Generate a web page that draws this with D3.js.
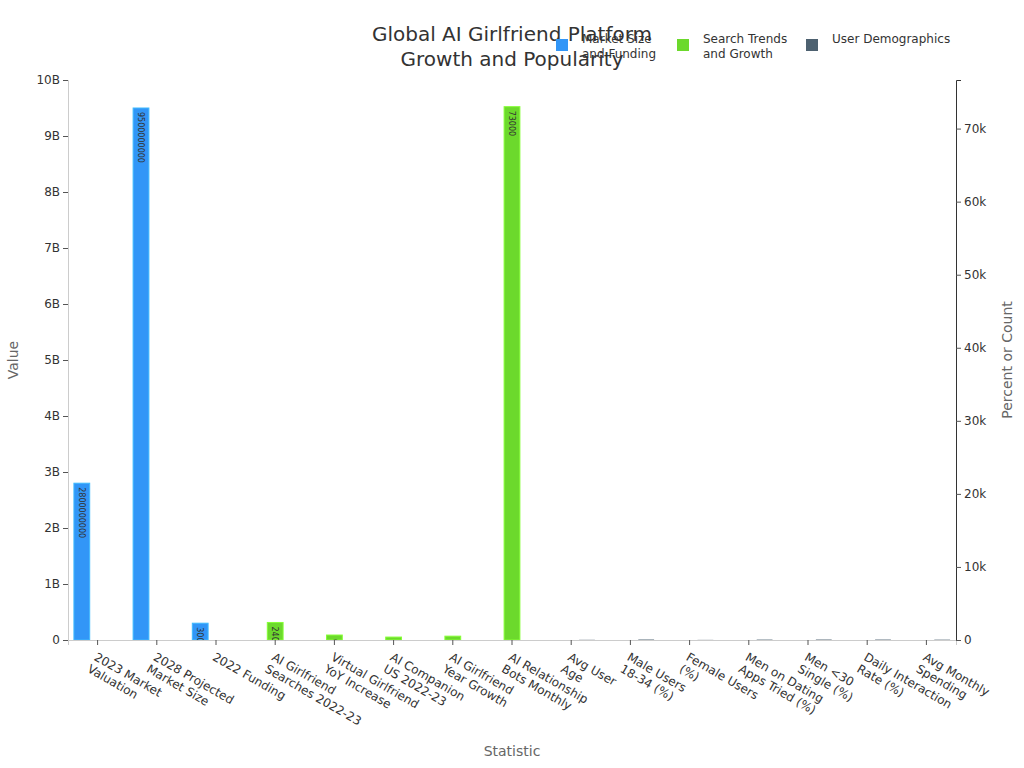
<!DOCTYPE html>
<html lang="en">
<head>
  <meta charset="UTF-8">
  <title>Global AI Girlfriend Platform Growth and Popularity</title>
  <script src="https://d3js.org/d3.v7.min.js"></script>
  <style>
    * { padding: 0; margin: 0; box-sizing: border-box; }
    body { background: #fff; }
    svg { display: block; font-family: "DejaVu Sans", sans-serif; }
  </style>
</head>
<body>
  <div id="container"></div>
  <script>
    // categories and which series each one belongs to
    const categories = [
      "2023 Market\nValuation", "2028 Projected\nMarket Size", "2022 Funding",
      "AI Girlfriend\nSearches 2022-23", "Virtual Girlfriend\nYoY Increase", "AI Companion\nUS 2022-23",
      "AI Girlfriend\nYear Growth", "AI Relationship\nBots Monthly",
      "Avg User\nAge", "Male Users\n18-34 (%)", "Female Users\n(%)", "Men on Dating\nApps Tried (%)",
      "Men <30\nSingle (%)", "Daily Interaction\nRate (%)", "Avg Monthly\nSpending"
    ];
    const seriesNames = ["Market Size\nand Funding", "Search Trends\nand Growth", "User Demographics"];
    const seriesColors = ["#3296f7", "#6cd92c", "#4d6170"];
    const seriesOf = [0, 0, 0, 1, 1, 1, 1, 1, 2, 2, 2, 2, 2, 2, 2];
    const values = [2800000000, 9500000000, 300000000, 2400, 680, 400, 525, 73000, 27, 65, 18, 55, 63, 60, 47];
    const leftTicks = d3.range(0, 11).map(d => d * 1e9);
    const rightTicks = d3.range(0, 8).map(d => d * 10000);

    const width = 1024, height = 768;
    const margin = { top: 80, right: 68, bottom: 128, left: 68 };

    const svg = d3.select("#container").append("svg")
      .attr("width", width).attr("height", height);

    const x0 = d3.scaleBand().domain(d3.range(categories.length))
      .range([margin.left, width - margin.right]).paddingInner(0.2).paddingOuter(0.1);
    const x1 = d3.scaleBand().domain([0, 1, 2]).range([0, x0.bandwidth()]);
    const yLeft = d3.scaleLinear().domain([0, 1e10]).range([height - margin.bottom, margin.top]);
    const yRight = d3.scaleLinear().domain([0, 73000 * 1.05]).range([height - margin.bottom, margin.top]);
    const yFor = s => s === 0 ? yLeft : yRight;

    // bars
    const bars = svg.append("g").selectAll("g").data(values).join("g");
    bars.each(function (v, i) {
      const s = seriesOf[i], y = yFor(s);
      const bx = x0(i) + x1(s), bw = x1.bandwidth();
      const top = y(v), h = y(0) - y(v);
      const g = d3.select(this);
      g.append("clipPath").attr("id", "clip-" + i)
        .append("rect").attr("x", bx).attr("y", top).attr("width", bw).attr("height", h);
      g.append("rect")
        .attr("x", bx).attr("y", top).attr("width", bw).attr("height", h)
        .attr("fill", seriesColors[s])
        .attr("stroke", h >= 2 ? d3.color(seriesColors[s]).brighter(0.6) : "none")
        .attr("stroke-width", 1);
      g.append("g").attr("clip-path", `url(#clip-${i})`)
        .append("text")
        .attr("transform", `translate(${bx + bw / 2},${top + 4}) rotate(90)`)
        .attr("dy", "0.35em")
        .attr("font-size", 8)
        .attr("fill", "#333")
        .text(v);
    });

    // x axis
    const xAxis = svg.append("g")
      .attr("transform", `translate(0,${height - margin.bottom})`)
      .call(d3.axisBottom(x0).tickSize(5).tickFormat(""));
    xAxis.select(".domain").attr("stroke", "#ccc");
    xAxis.selectAll(".tick line").attr("stroke", "#555");
    xAxis.selectAll(".tick").each(function (i) {
      const lines = categories[i].split("\n");
      const t = d3.select(this).append("text")
        .attr("transform", "translate(0,12) rotate(30)")
        .attr("text-anchor", "start")
        .attr("font-size", 12)
        .attr("fill", "#333");
      lines.forEach((l, k) => t.append("tspan").attr("x", 0).attr("dy", k ? "1.15em" : "0.71em").text(l));
    });

    // left axis
    const fmtB = d => d === 0 ? "0" : (d / 1e9) + "B";
    const la = svg.append("g").attr("transform", `translate(${margin.left},0)`)
      .call(d3.axisLeft(yLeft).tickValues(leftTicks).tickFormat(fmtB).tickSize(5));
    la.select(".domain").attr("stroke", "#ccc");
    la.selectAll(".tick line").attr("stroke", "#555");
    la.selectAll(".tick text").attr("font-size", 12).attr("fill", "#333");

    // right axis
    const fmtK = d => d === 0 ? "0" : (d / 1000) + "k";
    const ra = svg.append("g").attr("transform", `translate(${width - margin.right},0)`)
      .call(d3.axisRight(yRight).tickValues(rightTicks).tickFormat(fmtK).tickSize(5));
    ra.select(".domain").attr("stroke", "#333");
    ra.selectAll(".tick line").attr("stroke", "#555");
    ra.selectAll(".tick text").attr("font-size", 12).attr("fill", "#333");
    svg.selectAll("g").attr("font-family", null);

    // axis titles
    svg.append("text").attr("transform", `translate(18,${(margin.top + height - margin.bottom) / 2}) rotate(-90)`)
      .attr("text-anchor", "middle").attr("font-size", 14).attr("fill", "#666").text("Value");
    svg.append("text").attr("transform", `translate(1012,${(margin.top + height - margin.bottom) / 2}) rotate(-90)`)
      .attr("text-anchor", "middle").attr("font-size", 14).attr("fill", "#666").text("Percent or Count");
    svg.append("text").attr("x", width / 2).attr("y", 756)
      .attr("text-anchor", "middle").attr("font-size", 14).attr("fill", "#666").text("Statistic");

    // title
    const title = svg.append("text").attr("text-anchor", "middle").attr("font-size", 20).attr("fill", "#333");
    title.append("tspan").attr("x", width / 2).attr("y", 41).text("Global AI Girlfriend Platform");
    title.append("tspan").attr("x", width / 2).attr("y", 66).text("Growth and Popularity");

    // legend
    const legendX = [556, 677, 806];
    const legend = svg.append("g").selectAll("g").data(seriesNames).join("g")
      .attr("transform", (d, i) => `translate(${legendX[i]},39)`);
    legend.append("rect").attr("width", 12).attr("height", 12).attr("fill", (d, i) => seriesColors[i]);
    legend.each(function (d) {
      const t = d3.select(this).append("text").attr("x", 26).attr("font-size", 12).attr("fill", "#333");
      d.split("\n").forEach((l, k) => t.append("tspan").attr("x", 26).attr("y", k * 15 + 4).text(l));
    });
  </script>
</body>
</html>
